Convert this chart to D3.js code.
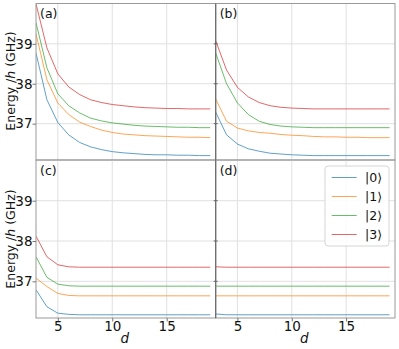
<!DOCTYPE html>
<html>
<head>
<meta charset="utf-8">
<script src="https://cdn.jsdelivr.net/npm/d3@7/dist/d3.min.js"></script>
<style>
  body { margin: 0; background: #fff; }
  svg { display: block; font-family: 'DejaVu Sans', sans-serif; }
</style>
</head>
<body>
<div id="chart"></div>
<script>
// ── DATA ──────────────────────────────────────────────────────────────────
const dValues = [3, 4, 5, 6, 7, 8, 9, 10, 11, 12, 13, 14, 15, 16, 17, 18, 19];
const stateLabels = ['|0⟩', '|1⟩', '|2⟩', '|3⟩'];
const panelLabels = ['(a)', '(b)', '(c)', '(d)'];
const yTicks = [37, 38, 39];
const xTicks = [5, 10, 15];

// panel (a)
const pa0 = [38.77, 37.60, 37.03, 36.72, 36.53, 36.42, 36.35, 36.30, 36.27, 36.25, 36.23, 36.22, 36.22, 36.21, 36.21, 36.20, 36.20];
const pa1 = [39.25, 38.10, 37.52, 37.23, 37.04, 36.93, 36.84, 36.78, 36.74, 36.72, 36.70, 36.69, 36.68, 36.67, 36.66, 36.66, 36.65];
const pa2 = [39.53, 38.40, 37.75, 37.45, 37.27, 37.14, 37.07, 37.02, 36.99, 36.96, 36.94, 36.93, 36.92, 36.91, 36.91, 36.90, 36.90];
const pa3 = [40.00, 38.90, 38.25, 37.92, 37.73, 37.60, 37.53, 37.48, 37.45, 37.42, 37.40, 37.39, 37.38, 37.38, 37.37, 37.37, 37.37];
// panel (b)
const pb0 = [37.29, 36.72, 36.49, 36.37, 36.31, 36.26, 36.24, 36.22, 36.21, 36.20, 36.20, 36.20, 36.20, 36.20, 36.20, 36.20, 36.20];
const pb1 = [37.62, 37.06, 36.89, 36.82, 36.78, 36.76, 36.73, 36.71, 36.70, 36.68, 36.67, 36.67, 36.66, 36.66, 36.65, 36.65, 36.65];
const pb2 = [38.77, 38.00, 37.52, 37.23, 37.06, 36.98, 36.94, 36.92, 36.91, 36.90, 36.90, 36.90, 36.90, 36.90, 36.90, 36.90, 36.90];
const pb3 = [39.08, 38.34, 37.91, 37.67, 37.53, 37.45, 37.41, 37.39, 37.38, 37.37, 37.37, 37.37, 37.37, 37.37, 37.37, 37.37, 37.37];
// panel (c)
const pc0 = [36.79, 36.37, 36.21, 36.18, 36.17, 36.17, 36.17, 36.17, 36.17, 36.17, 36.17, 36.17, 36.17, 36.17, 36.17, 36.17, 36.17];
const pc1 = [37.08, 36.87, 36.70, 36.65, 36.64, 36.64, 36.64, 36.64, 36.64, 36.64, 36.64, 36.64, 36.64, 36.64, 36.64, 36.64, 36.64];
const pc2 = [37.61, 37.10, 36.93, 36.89, 36.88, 36.88, 36.88, 36.88, 36.88, 36.88, 36.88, 36.88, 36.88, 36.88, 36.88, 36.88, 36.88];
const pc3 = [38.12, 37.61, 37.41, 37.36, 37.35, 37.35, 37.35, 37.35, 37.35, 37.35, 37.35, 37.35, 37.35, 37.35, 37.35, 37.35, 37.35];
// panel (d)
const pd0 = [36.19, 36.17, 36.17, 36.17, 36.17, 36.17, 36.17, 36.17, 36.17, 36.17, 36.17, 36.17, 36.17, 36.17, 36.17, 36.17, 36.17];
const pd1 = [36.64, 36.64, 36.64, 36.64, 36.64, 36.64, 36.64, 36.64, 36.64, 36.64, 36.64, 36.64, 36.64, 36.64, 36.64, 36.64, 36.64];
const pd2 = [36.88, 36.88, 36.88, 36.88, 36.88, 36.88, 36.88, 36.88, 36.88, 36.88, 36.88, 36.88, 36.88, 36.88, 36.88, 36.88, 36.88];
const pd3 = [37.36, 37.35, 37.35, 37.35, 37.35, 37.35, 37.35, 37.35, 37.35, 37.35, 37.35, 37.35, 37.35, 37.35, 37.35, 37.35, 37.35];

const colors = ['#1f77b4', '#ff7f0e', '#2ca02c', '#d62728'];

// ── LAYOUT ────────────────────────────────────────────────────────────────
const W = 399, H = 349;
const colX = [[36, 215.7], [215.7, 395]];
const rowY = [[3.5, 160], [160, 318]];

const panels = [
  { label: panelLabels[0], series: [pa0, pa1, pa2, pa3], col: 0, row: 0 },
  { label: panelLabels[1], series: [pb0, pb1, pb2, pb3], col: 1, row: 0 },
  { label: panelLabels[2], series: [pc0, pc1, pc2, pc3], col: 0, row: 1 },
  { label: panelLabels[3], series: [pd0, pd1, pd2, pd3], col: 1, row: 1 }
];

const svg = d3.select('#chart').append('svg').attr('width', W).attr('height', H);

panels.forEach((p, i) => {
  const [x0, x1] = colX[p.col], [y0, y1] = rowY[p.row];
  const x = d3.scaleLinear().domain([3, 19.5]).range([x0, x1]);
  const y = d3.scaleLinear().domain([36.09, 40.01]).range([y1, y0]);
  const g = svg.append('g');

  // grid
  g.selectAll('.gx').data(xTicks).enter().append('line')
    .attr('x1', d => x(d)).attr('x2', d => x(d)).attr('y1', y0).attr('y2', y1)
    .attr('stroke', '#e0e0e0').attr('stroke-width', 1);
  g.selectAll('.gy').data(yTicks).enter().append('line')
    .attr('x1', x0).attr('x2', x1).attr('y1', d => y(d)).attr('y2', d => y(d))
    .attr('stroke', '#e0e0e0').attr('stroke-width', 1);

  // lines
  const clipId = 'clip' + i;
  svg.append('clipPath').attr('id', clipId).append('rect')
    .attr('x', x0).attr('y', y0).attr('width', x1 - x0).attr('height', y1 - y0);
  const line = d3.line().x((d, k) => x(dValues[k])).y(d => y(d));
  p.series.forEach((s, k) => {
    g.append('path').datum(s).attr('d', line).attr('clip-path', `url(#${clipId})`)
      .attr('fill', 'none').attr('stroke', colors[k]).attr('stroke-width', 1).attr('opacity', 0.7);
  });

  // frame
  g.append('rect').attr('x', x0).attr('y', y0).attr('width', x1 - x0).attr('height', y1 - y0)
    .attr('fill', 'none').attr('stroke', '#999').attr('stroke-width', 1);

  g.append('text').attr('x', x0 + 4).attr('y', y0 + 14.5)
    .attr('font-size', '12.5px').attr('fill', '#111').text(p.label);

  // y axis on left column
  if (p.col === 0) {
    const ax = g.append('g').attr('transform', `translate(${x0},0)`)
      .call(d3.axisLeft(y).tickValues(yTicks).tickSize(3.5).tickPadding(0).tickFormat(d3.format('d')));
    ax.select('.domain').remove();
    ax.selectAll('line').attr('stroke', '#777');
    ax.selectAll('text').attr('font-size', '13.5px').attr('fill', '#111').attr('font-family', 'DejaVu Sans, sans-serif');
  } else {
    g.selectAll('.yt').data(yTicks).enter().append('line')
      .attr('x1', x0 - 2).attr('x2', x0 + 2).attr('y1', d => y(d)).attr('y2', d => y(d))
      .attr('stroke', '#666');
  }

  // x axis on bottom row
  if (p.row === 1) {
    const ax = g.append('g').attr('transform', `translate(0,${y1})`)
      .call(d3.axisBottom(x).tickValues(xTicks).tickSize(3.5).tickPadding(0));
    ax.select('.domain').remove();
    ax.selectAll('line').attr('stroke', '#777');
    ax.selectAll('text').attr('font-size', '13.5px').attr('fill', '#111').attr('font-family', 'DejaVu Sans, sans-serif');
    g.append('text').attr('x', (x0 + x1) / 2 - 1).attr('y', 343)
      .attr('text-anchor', 'middle').attr('font-size', '13.5px').attr('font-style', 'italic')
      .attr('fill', '#111').text('d');
  }
});

// shared middle spine, drawn a bit darker
svg.append('line').attr('x1', colX[1][0]).attr('x2', colX[1][0]).attr('y1', rowY[0][0]).attr('y2', rowY[1][1])
  .attr('stroke', '#666').attr('stroke-width', 1);

// y labels
[81, 239].forEach(cy => {
  const yl = svg.append('text').attr('transform', `translate(14.5,${cy}) rotate(-90)`)
    .attr('text-anchor', 'middle').attr('font-size', '12.5px').attr('fill', '#111');
  yl.append('tspan').text('Energy /');
  yl.append('tspan').attr('font-style', 'italic').text('h');
  yl.append('tspan').text(' (GHz)');
});

// ── LEGEND ────────────────────────────────────────────────────────────────
const lg = svg.append('g').attr('transform', 'translate(325,166)');
lg.append('rect').attr('width', 64).attr('height', 80).attr('rx', 3)
  .attr('fill', '#fff').attr('fill-opacity', 0.85).attr('stroke', '#d5d5d5');
stateLabels.forEach((s, k) => {
  const yy = 11.5 + k * 19;
  lg.append('line').attr('x1', 6.7).attr('x2', 31.7).attr('y1', yy).attr('y2', yy)
    .attr('stroke', colors[k]).attr('stroke-width', 1).attr('opacity', 0.7);
  lg.append('text').attr('x', 40).attr('y', yy + 4.5).attr('font-size', '12.5px').attr('fill', '#111').text(s);
});
</script>
</body>
</html>
